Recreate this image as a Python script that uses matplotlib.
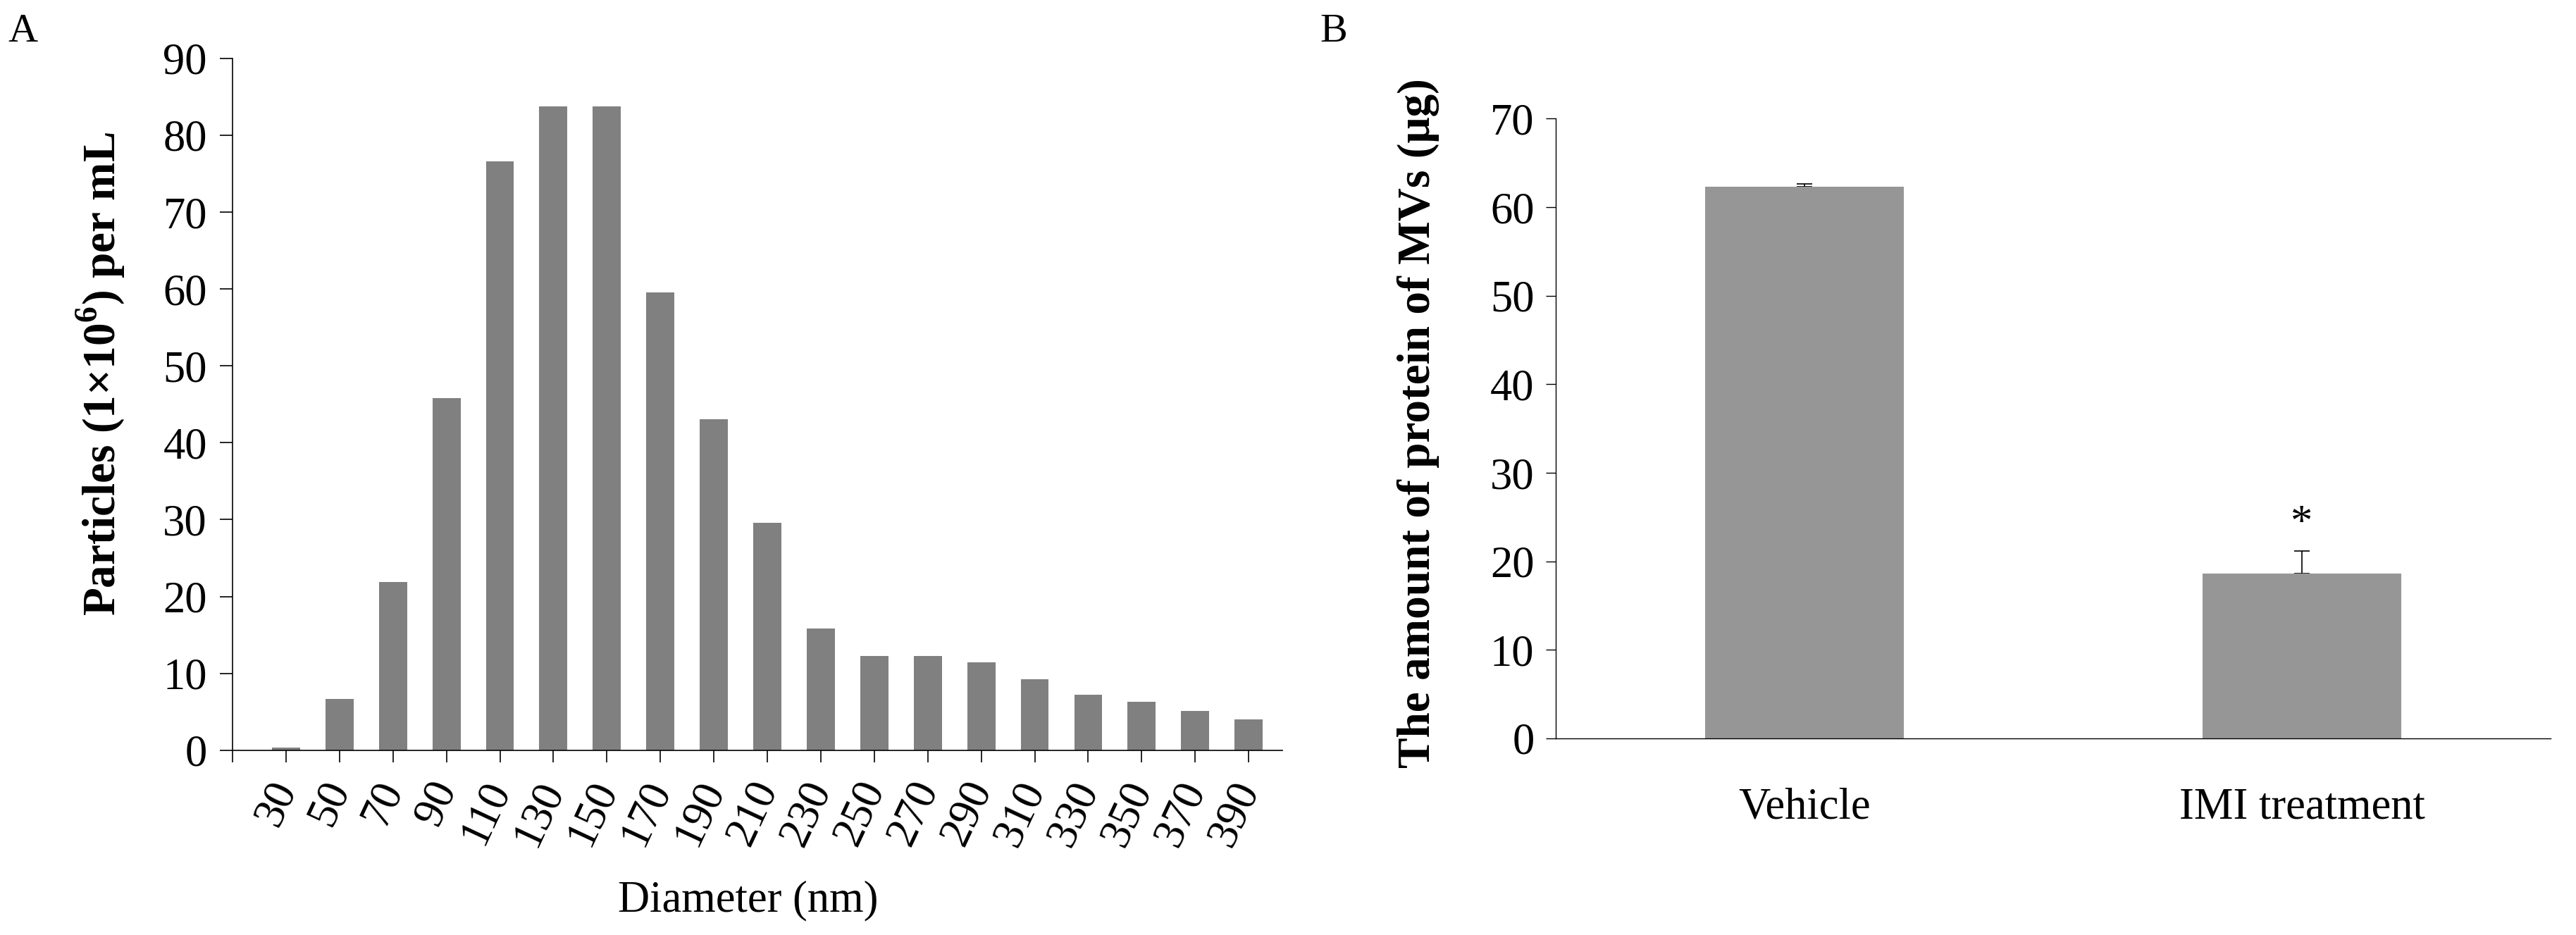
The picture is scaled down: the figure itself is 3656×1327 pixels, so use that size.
import matplotlib
matplotlib.use("Agg")
import matplotlib.pyplot as plt
import numpy as np

plt.rcParams["font.family"] = ["Liberation Serif", "DejaVu Serif"]
plt.rcParams["mathtext.fontset"] = "custom"
plt.rcParams["mathtext.rm"] = "Liberation Serif"
plt.rcParams["mathtext.bf"] = "Liberation Serif:bold"

# panel A: size distribution
diameters = [30, 50, 70, 90, 110, 130, 150, 170, 190, 210,
             230, 250, 270, 290, 310, 330, 350, 370, 390]
particles = [0.3, 6.7, 21.9, 45.8, 76.6, 83.8, 83.8, 59.6, 43.1, 29.6,
             15.8, 12.3, 12.3, 11.4, 9.2, 7.2, 6.3, 5.1, 4.0]

# panel B: protein amount
groups = ["Vehicle", "IMI treatment"]
protein = [62.3, 18.6]
protein_err = [0.3, 2.6]

fig = plt.figure(figsize=(36.56, 13.27), dpi=100)

# ---- A ----
axa = fig.add_axes([0.09026, 0.19766, 0.40755, 0.73987])
axa.bar(diameters, particles, width=10.5, color="#808080")
axa.set_xlim(10, 402.6)
axa.set_ylim(0, 90)
axa.set_yticks(np.arange(0, 91, 10))
xt = [10] + diameters
axa.set_xticks(xt)
axa.set_xticklabels([""] + [str(d) for d in diameters], rotation=65,
                    ha="right", va="center", rotation_mode="anchor")
for s in ["top", "right"]:
    axa.spines[s].set_visible(False)
for s in ["left", "bottom"]:
    axa.spines[s].set_linewidth(1.2)
axa.tick_params(axis="y", length=13, width=1.2, labelsize=45, pad=13)
axa.tick_params(axis="x", length=12, width=1.2, labelsize=45, pad=22)
fig.text(1062 / 3656, 1 - 1278 / 1327, "Diameter (nm)", fontsize=45,
         ha="center", va="center")
fig.text(143 / 3656, 1 - 531 / 1327,
         "Particles (1×10$^{\\mathbf{6}}$) per mL", fontsize=47,
         fontweight="bold", rotation=90, ha="center", va="center")
fig.text(32 / 3656, 1 - 45 / 1327, "A", fontsize=42, ha="center", va="center")

# ---- B ----
axb = fig.add_axes([0.60394, 0.21025, 0.38621, 0.66285])
xb = np.arange(len(groups))
# error bars behind the bars so only the upper part shows
axb.errorbar(xb, protein, yerr=[[0, 0], protein_err], fmt="none",
             ecolor="black", elinewidth=1.2, capsize=8, capthick=1.2, zorder=1)
axb.bar(xb, protein, width=0.4, color="#969696", zorder=2)
axb.text(xb[1], protein[1] + protein_err[1] + 0.6, "*", fontsize=45,
         ha="center", va="bottom")
axb.set_xlim(-0.5, 1.5)
axb.set_ylim(0, 70)
axb.set_yticks(np.arange(0, 71, 10))
axb.set_xticks(xb)
axb.set_xticklabels(groups)
for s in ["top", "right"]:
    axb.spines[s].set_visible(False)
for s in ["left", "bottom"]:
    axb.spines[s].set_linewidth(1.0)
    axb.spines[s].set_zorder(3)
axb.tick_params(axis="y", length=10, width=1.0, labelsize=45, pad=12)
axb.tick_params(axis="x", length=0, labelsize=45, pad=50)
fig.text(2013 / 3656, 1 - 601 / 1327, "The amount of protein of MVs (μg)",
         fontsize=47, fontweight="bold", rotation=90, ha="center", va="center")
fig.text(1893 / 3656, 1 - 45 / 1327, "B", fontsize=42, ha="center", va="center")

fig.savefig("out.png", dpi=100, facecolor="white")
